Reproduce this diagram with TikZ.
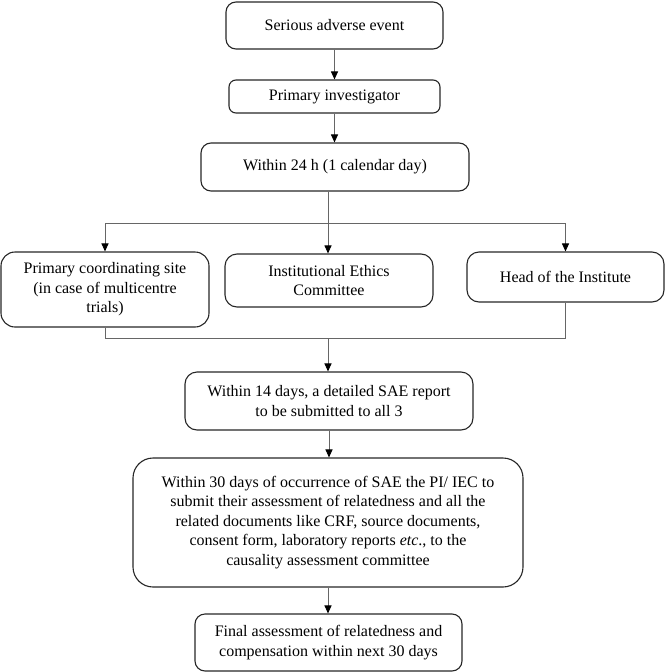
\documentclass[tikz,border=0pt]{standalone}
\usepackage{fontspec}
\setmainfont{Liberation Serif}
\usetikzlibrary{arrows.meta}
\begin{document}
\begin{tikzpicture}[x=1pt,y=-1pt,
  box/.style={draw=black!85,line width=1.1pt,align=center,inner sep=0pt,
    font=\fontsize{16}{19.5}\selectfont,text=black},
  conn/.style={draw=black!60,line width=1pt},
  arr/.style={conn,-{Triangle[length=8pt,width=7pt,color=black]}}]
\useasboundingbox (0,0) rectangle (665,672);
\node[box,rounded corners=10pt,minimum width=217pt,minimum height=47pt] (b1) at (334.5,25.5) {Serious adverse event};
\node[box,rounded corners=7pt,minimum width=211pt,minimum height=33pt] (b2) at (334.5,96.5) {Primary investigator};
\node[box,rounded corners=10pt,minimum width=268pt,minimum height=48pt] (b3) at (335,167) {Within 24 h (1 calendar day)};
\node[box,rounded corners=14pt,minimum width=208pt,minimum height=75pt] (b4) at (105,289.5) {Primary coordinating site\\(in case of multicentre\\trials)};
\node[box,rounded corners=12pt,minimum width=208pt,minimum height=53pt] (b5) at (329,280.5) {Institutional Ethics\\Committee};
\node[box,rounded corners=12pt,minimum width=197pt,minimum height=50pt] (b6) at (565.5,277) {Head of the Institute};
\node[box,rounded corners=12pt,minimum width=288pt,minimum height=58pt] (b7) at (329,401) {Within 14 days, a detailed SAE report\\to be submitted to all 3};
\node[box,rounded corners=20pt,minimum width=390pt,minimum height=129pt] (b8) at (328,522.5) {Within 30 days of occurrence of SAE the PI/ IEC to\\submit their assessment of relatedness and all the\\related documents like CRF, source documents,\\consent form, laboratory reports \textit{etc}., to the\\causality assessment committee};
\node[box,rounded corners=10pt,minimum width=267pt,minimum height=57pt] (b9) at (328.5,642.5) {Final assessment of relatedness and\\compensation within next 30 days};
\coordinate (split) at (328,223);
\coordinate (merge) at (328,338);
\draw[arr] (b1.south) -- (b1.south |- b2.north);
\draw[arr] (b2.south) -- (b2.south |- b3.north);
\draw[conn] (split |- b3.south) -- (split);
\draw[conn] (b4.north |- split) -- (b6.north |- split);
\draw[arr] (b4.north |- split) -- (b4.north);
\draw[arr] (split) -- (split |- b5.north);
\draw[arr] (b6.north |- split) -- (b6.north);
\draw[conn] (b4.south) -- (b4.south |- merge) -- (b6.south |- merge) -- (b6.south);
\draw[arr] (merge) -- (merge |- b7.north);
\draw[arr] (b7.south) -- (b7.south |- b8.north);
\draw[arr] (b8.south) -- (b8.south |- b9.north);
\end{tikzpicture}
\end{document}
